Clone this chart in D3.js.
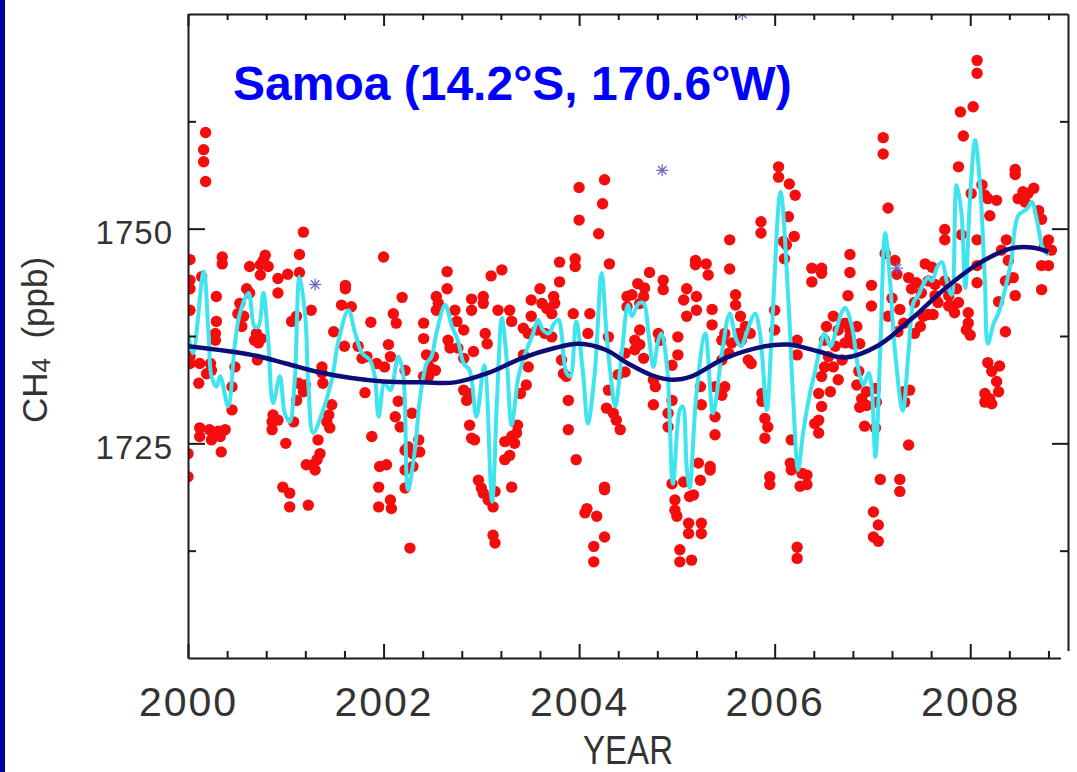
<!DOCTYPE html>
<html>
<head>
<meta charset="utf-8">
<script src="https://cdn.jsdelivr.net/npm/d3@7"></script>
<style>
  body { margin: 0; background: #fff; }
  svg { display: block; }
</style>
</head>
<body>
<svg id="chart"></svg>
<script>
// Tick values and labels
let yearTicks = [2000, 2002, 2004, 2006, 2008];
let yearMinorTicks = [2000.4, 2000.8, 2001.2, 2001.6, 2002.4, 2002.8, 2003.2, 2003.6,
    2004.4, 2004.8, 2005.2, 2005.6, 2006.4, 2006.8, 2007.2, 2007.6, 2008.4, 2008.8];
let ch4Ticks = [1725, 1750];
let ch4MinorTicks = [1712.5, 1737.5, 1762.5];

// Flask samples [year, CH4 ppb]
let flaskSamples = [
    [2000.18,1761.2],[2000.16,1759.2],[2000.16,1757.8],[2000.18,1755.5],
    [2001.18,1749.6],[2001.14,1747.0],[2000.35,1746.7],[2000.35,1745.9],
    [2000.79,1746.9],[2000.77,1746.3],[2002.00,1746.7],[2000.63,1745.6],
    [2000.74,1745.8],[2000.82,1745.6],[2000.74,1744.6],[2000.92,1744.2],[2001.02,1744.7],[2001.14,1744.9],
    [2000.02,1746.4],[2000.02,1744.0],[2000.02,1743.0],[2000.14,1744.4],[2000.29,1742.1],[2000.92,1742.5],
    [2000.60,1743.0],[2000.63,1742.5],[2001.61,1743.4],[2001.61,1743.0],[2002.19,1742.0],
    [2001.26,1740.5],[2001.57,1741.1],[2001.67,1740.9],
    [2000.53,1741.3],[2000.51,1740.1],[2000.57,1739.8],[2000.55,1738.6],
    [2000.02,1740.5],[2000.29,1739.2],[2001.06,1739.2],[2001.11,1739.8],
    [2002.10,1740.1],[2002.13,1739.0],[2001.87,1739.1],[2001.49,1738.0],
    [2000.28,1737.8],[2000.28,1737.0],[2000.70,1737.8],[2000.75,1737.2],[2000.68,1737.0],[2000.72,1736.7],
    [2001.60,1736.3],[2002.05,1736.5],[2002.07,1735.1],
    [2000.02,1735.1],[2000.02,1734.3],[2000.12,1734.3],[2000.23,1734.3],[2000.24,1733.5],[2000.48,1733.9],[2000.71,1734.7],
    [2001.37,1733.9],[2001.37,1733.2],[2001.38,1732.0],
    [2001.74,1736.3],[2001.78,1734.9],[2001.83,1735.1],[2001.93,1734.3],[2002.01,1733.9],
    [2000.11,1732.0],[2000.19,1733.1],[2001.13,1732.0],[2001.20,1731.8],[2001.18,1731.0],[2001.81,1730.9],
    [2000.45,1731.6],[2000.45,1728.9],[2001.11,1730.0],
    [2001.47,1729.5],[2001.44,1728.3],[2001.42,1727.5],[2001.45,1726.8],
    [2002.15,1729.9],[2002.12,1728.1],[2002.17,1726.9],
    [2000.87,1728.3],[2000.86,1727.5],[2000.86,1726.6],[2000.92,1727.7],[2001.08,1727.5],
    [2000.12,1726.8],[2000.12,1725.8],[2000.22,1726.6],[2000.26,1726.0],[2000.31,1726.4],[2000.38,1726.6],[2000.33,1725.8],[2000.24,1725.4],
    [2000.34,1724.0],[2000.00,1723.8],[2000.00,1721.1],[2001.00,1725.0],
    [2001.33,1725.4],[2001.35,1723.8],[2001.32,1723.1],[2001.28,1722.5],[2001.21,1722.5],[2001.30,1721.9],
    [2001.88,1725.8],[2001.96,1722.3],[2002.03,1722.5],[2001.95,1719.9],
    [2001.95,1717.6],[2002.07,1718.4],[2002.08,1717.4],
    [2000.97,1719.9],[2001.04,1719.2],[2001.04,1717.6],[2001.23,1717.8],
    [2002.22,1724.2],[2002.22,1721.9],
    [2004.26,1755.7],[2004.24,1752.9],[2004.20,1749.4],[2004.31,1745.9],
    [2004.00,1754.8],[2004.00,1751.0],
    [2003.80,1746.1],[2003.80,1743.8],[2003.96,1746.5],[2003.96,1745.6],
    [2002.65,1745.0],[2002.65,1743.0],[2003.10,1744.5],[2003.21,1745.2],
    [2003.60,1743.0],[2003.51,1741.7],[2003.62,1741.3],[2003.67,1740.7],[2003.74,1742.1],[2003.75,1741.3],[2003.72,1740.1],
    [2002.54,1742.1],[2002.56,1741.3],[2002.54,1740.5],
    [2002.90,1741.8],[2003.02,1742.1],[2003.02,1741.3],[2002.90,1740.5],
    [2003.17,1740.5],[2003.29,1740.5],[2003.31,1739.2],
    [2002.73,1740.5],[2002.75,1739.2],[2002.82,1738.2],
    [2002.41,1739.0],[2002.41,1737.2],[2003.94,1740.1],[2004.11,1740.1],[2004.49,1742.1],[2004.49,1740.9],
    [2003.51,1739.8],[2003.43,1738.4],[2003.48,1737.8],[2003.57,1738.2],[2003.65,1737.8],[2003.72,1737.4],
    [2003.04,1737.8],[2003.06,1736.6],[2002.92,1735.7],
    [2002.66,1737.0],[2002.68,1736.1],[2002.76,1736.1],
    [2002.44,1735.3],[2002.51,1735.1],[2002.47,1733.9],[2002.53,1733.5],[2002.46,1732.8],[2002.41,1732.8],[2002.22,1733.5],
    [2002.82,1734.9],[2002.82,1731.2],[2002.85,1730.0],[2002.87,1730.8],
    [2003.43,1735.3],[2003.48,1733.9],[2003.46,1731.8],[2003.40,1730.8],
    [2003.82,1734.7],[2003.84,1733.1],[2003.87,1732.8],[2003.89,1730.0],[2003.89,1726.6],
    [2004.09,1737.8],
    [2004.30,1737.4],[2004.40,1733.0],[2004.30,1731.2],[2004.28,1729.1],[2004.38,1727.7],[2004.42,1726.6],[2004.35,1728.5],
    [2002.29,1728.5],[2002.25,1724.6],[2002.36,1725.4],[2002.37,1724.0],[2002.30,1723.8],[2002.22,1719.8],[2002.30,1722.3],
    [2002.88,1727.1],[2002.90,1725.6],[2002.93,1725.4],
    [2003.24,1725.2],[2003.31,1725.8],[2003.29,1723.6],[2003.24,1723.1],[2003.34,1725.0],[2003.36,1726.2],[2003.37,1727.1],
    [2003.31,1719.9],
    [2002.97,1720.7],[2003.00,1719.8],[2003.02,1719.2],[2003.07,1718.4],[2003.12,1717.6],[2003.14,1719.4],
    [2003.12,1714.3],[2003.14,1713.4],[2002.27,1712.8],[2003.97,1723.1],
    [2004.08,1717.4],[2004.06,1716.9],[2004.18,1716.5],[2004.26,1714.1],
    [2004.15,1713.0],[2004.15,1711.2],[2004.26,1719.9],[2004.26,1719.6],
    [2006.04,1757.2],[2006.04,1756.0],[2006.15,1755.2],[2006.21,1753.9],
    [2005.86,1750.8],[2005.86,1749.5],
    [2006.14,1751.4],[2006.20,1749.1],[2006.09,1748.5],[2006.12,1748.1],[2006.10,1746.5],
    [2005.54,1748.7],[2005.54,1745.3],
    [2005.19,1746.3],[2005.19,1745.8],[2005.30,1745.9],[2005.32,1744.6],
    [2004.72,1744.9],[2004.86,1744.0],[2004.86,1742.9],
    [2004.60,1743.6],[2004.67,1743.1],[2004.54,1742.3],[2004.66,1742.1],[2004.62,1741.3],
    [2005.10,1743.0],[2005.07,1741.7],[2005.20,1742.1],[2005.10,1739.8],[2005.20,1740.5],
    [2005.36,1740.6],[2005.36,1738.8],[2005.60,1742.3],[2005.60,1741.1],
    [2006.38,1745.4],[2006.48,1745.4],[2006.38,1743.8],[2006.48,1744.8],
    [2006.00,1740.5],[2006.00,1738.2],
    [2005.65,1739.8],[2005.70,1738.6],[2005.75,1737.8],[2005.63,1737.8],[2005.66,1737.0],[2005.76,1734.3],[2005.73,1734.7],
    [2005.49,1737.8],[2005.56,1736.7],[2005.53,1735.5],[2005.46,1734.7],[2005.46,1737.0],
    [2006.53,1738.6],[2006.60,1739.8],[2006.51,1737.0],[2006.62,1736.3],[2006.65,1738.2],[2006.55,1735.1],
    [2006.51,1733.9],[2006.60,1733.9],[2006.72,1736.7],[2006.69,1734.7],[2006.48,1732.8],[2006.65,1732.4],
    [2006.57,1731.0],[2006.45,1730.8],[2006.48,1729.3],[2006.45,1727.7],[2006.41,1727.3],[2006.45,1726.2],
    [2006.23,1737.0],[2006.23,1735.3],
    [2004.47,1735.5],[2004.47,1733.3],
    [2004.57,1737.0],[2004.62,1736.5],[2004.57,1735.9],[2004.66,1734.9],[2004.62,1738.2],
    [2004.81,1737.8],[2004.83,1737.0],[2005.01,1737.4],[2005.01,1735.3],[2004.95,1734.1],
    [2004.76,1732.4],[2004.78,1731.6],[2004.76,1729.5],
    [2004.95,1730.0],[2004.91,1728.5],[2004.91,1726.9],
    [2005.24,1731.6],[2005.25,1729.5],[2005.39,1731.6],[2005.49,1731.6],[2005.46,1730.6],
    [2005.39,1728.1],[2005.39,1726.0],
    [2005.87,1730.8],[2005.87,1729.9],[2005.90,1727.9],[2005.93,1726.9],[2005.90,1725.6],
    [2006.17,1725.4],[2006.16,1722.7],[2006.17,1721.9],
    [2006.28,1721.5],[2006.33,1721.3],[2006.26,1720.0],[2006.33,1720.2],
    [2005.95,1721.1],[2005.95,1720.2],
    [2005.22,1722.7],[2005.24,1720.7],[2005.34,1722.3],[2005.34,1721.9],
    [2004.95,1720.3],[2005.07,1720.5],[2004.98,1718.4],[2004.98,1717.2],[2005.00,1716.5],[2005.13,1718.8],[2005.17,1719.0],
    [2005.12,1715.7],[2005.12,1714.5],[2005.25,1715.7],[2005.25,1714.5],
    [2005.03,1712.6],[2005.03,1711.2],[2005.15,1711.4],
    [2006.23,1712.9],[2006.23,1711.6],
    [2008.07,1769.6],[2008.07,1768.1],[2008.03,1764.2],[2007.90,1763.6],[2007.93,1760.8],
    [2007.11,1760.6],[2007.11,1758.7],[2007.16,1752.4],
    [2007.88,1757.2],[2008.01,1754.1],[2008.15,1753.9],[2008.12,1755.1],[2008.18,1753.5],[2008.27,1753.3],[2008.20,1751.5],
    [2008.46,1756.9],[2008.46,1756.3],[2008.49,1753.5],[2008.56,1753.1],[2008.59,1754.1],[2008.65,1754.7],[2008.54,1754.3],
    [2008.70,1752.1],[2008.73,1751.1],[2008.80,1748.7],[2008.76,1747.9],[2008.83,1747.5],[2008.73,1745.7],[2008.80,1745.7],[2008.73,1742.9],
    [2007.74,1749.9],[2007.74,1748.7],[2007.91,1749.3],
    [2008.07,1748.7],[2008.07,1745.7],[2008.07,1743.7],
    [2006.77,1747.0],[2006.77,1744.9],[2006.75,1742.2],
    [2006.99,1743.4],[2006.99,1741.0],
    [2007.13,1747.1],[2007.23,1746.3],[2007.25,1744.7],[2007.20,1741.9],[2007.16,1739.8],[2007.28,1740.6],[2007.32,1739.0],[2007.26,1738.0],
    [2007.37,1744.3],[2007.40,1743.0],[2007.45,1743.7],[2007.43,1741.4],[2007.50,1742.5],[2007.54,1745.9],[2007.61,1745.5],
    [2007.57,1743.9],[2007.64,1743.5],[2007.67,1741.4],[2007.52,1739.8],[2007.57,1740.0],[2007.62,1740.0],[2007.64,1742.2],
    [2007.43,1737.8],[2007.49,1738.6],
    [2007.74,1743.9],[2007.78,1742.2],[2007.81,1741.0],[2007.86,1743.0],[2007.88,1741.4],[2007.84,1740.2],[2007.78,1741.0],
    [2007.98,1740.2],[2007.98,1739.0],[2007.96,1738.2],[2008.00,1737.6],
    [2008.29,1741.5],
    [2008.37,1748.7],[2008.32,1747.5],[2008.39,1746.3],[2008.36,1743.9],[2008.44,1744.3],[2008.46,1742.2],
    [2008.36,1738.0],
    [2006.72,1739.0],[2006.77,1738.2],[2006.84,1738.6],[2006.87,1736.6],[2006.77,1737.4],[2006.80,1736.6],
    [2008.18,1734.4],[2008.22,1733.4],[2008.30,1734.0],[2008.27,1732.2],[2008.29,1731.0],[2008.15,1730.8],[2008.20,1730.2],[2008.22,1729.6],[2008.15,1729.8],
    [2006.86,1733.4],[2006.84,1731.8],[2006.89,1730.2],[2006.87,1729.2],[2006.94,1731.0],[2006.94,1729.4],[2006.92,1727.0],
    [2007.03,1731.4],[2007.04,1729.8],[2007.03,1726.8],
    [2007.32,1731.0],[2007.38,1731.2],[2007.33,1729.8],
    [2007.37,1724.8],[2007.08,1720.8],[2007.28,1720.8],[2007.28,1719.4],
    [2007.01,1717.0],[2007.06,1715.5],[2007.01,1714.1],[2007.06,1713.6]
];

// Short-term smoothed fit (cyan)
let shortFit = [
    [2000.00,1737.8],[2000.05,1735.5],[2000.16,1745.0],[2000.21,1737.8],[2000.24,1732.8],[2000.29,1731.6],
    [2000.33,1732.8],[2000.41,1729.3],[2000.48,1736.6],[2000.53,1740.1],[2000.62,1742.5],[2000.68,1738.6],
    [2000.72,1738.6],[2000.77,1742.5],[2000.82,1737.0],[2000.87,1729.7],[2000.94,1732.8],[2000.99,1728.5],
    [2001.04,1727.5],[2001.09,1732.0],[2001.14,1744.4],[2001.20,1739.7],[2001.23,1732.0],[2001.28,1726.2],
    [2001.37,1728.5],[2001.47,1732.4],[2001.54,1737.0],[2001.64,1740.5],[2001.71,1737.8],[2001.78,1735.5],
    [2001.86,1734.7],[2001.91,1732.8],[2001.95,1728.1],[2002.01,1732.0],[2002.07,1731.2],[2002.15,1735.1],
    [2002.20,1733.1],[2002.25,1719.6],[2002.32,1724.2],[2002.37,1730.0],[2002.44,1734.3],[2002.49,1735.1],
    [2002.54,1737.8],[2002.63,1741.1],[2002.70,1738.6],[2002.76,1737.0],[2002.82,1734.3],[2002.88,1733.5],
    [2002.95,1728.1],[2003.03,1734.1],[2003.11,1718.2],[2003.16,1730.0],[2003.21,1739.6],[2003.26,1734.7],
    [2003.31,1727.1],[2003.38,1732.8],[2003.45,1735.5],[2003.53,1737.8],[2003.58,1739.4],[2003.63,1738.2],
    [2003.69,1737.8],[2003.74,1738.9],[2003.79,1739.4],[2003.82,1737.8],[2003.87,1733.2],[2003.91,1732.8],
    [2003.97,1739.2],[2004.04,1733.2],[2004.09,1727.3],[2004.16,1733.2],[2004.23,1744.8],[2004.28,1737.8],
    [2004.32,1733.2],[2004.37,1729.3],[2004.44,1735.9],[2004.50,1741.1],[2004.54,1739.8],[2004.61,1741.3],
    [2004.66,1741.3],[2004.71,1737.8],[2004.76,1733.9],[2004.81,1737.0],[2004.84,1737.8],[2004.90,1733.9],
    [2004.96,1720.3],[2005.03,1728.9],[2005.06,1729.3],[2005.10,1722.3],[2005.13,1719.8],[2005.20,1730.8],
    [2005.29,1737.8],[2005.37,1728.5],[2005.46,1735.5],[2005.54,1740.1],[2005.61,1737.0],[2005.66,1736.3],
    [2005.71,1737.8],[2005.80,1740.1],[2005.85,1737.8],[2005.92,1728.9],[2005.97,1737.8],[2006.06,1754.3],
    [2006.14,1741.7],[2006.19,1730.0],[2006.24,1721.9],[2006.29,1726.2],[2006.36,1730.8],[2006.41,1733.2],
    [2006.48,1737.0],[2006.51,1737.8],[2006.57,1736.3],[2006.62,1737.8],[2006.68,1740.1],[2006.72,1740.8],
    [2006.79,1738.6],[2006.86,1733.4],[2006.91,1731.8],[2006.96,1733.2],[2006.99,1731.8],[2007.03,1723.4],
    [2007.08,1735.8],[2007.13,1749.5],[2007.18,1743.9],[2007.23,1735.8],[2007.31,1728.8],[2007.37,1735.8],
    [2007.42,1741.4],[2007.47,1742.3],[2007.52,1743.5],[2007.57,1744.3],[2007.61,1743.9],[2007.66,1745.5],
    [2007.71,1746.1],[2007.76,1743.9],[2007.81,1742.3],[2007.86,1755.1],[2007.91,1751.9],[2007.95,1743.1],
    [2008.00,1753.9],[2008.05,1760.3],[2008.10,1755.1],[2008.15,1743.9],[2008.18,1736.6],[2008.24,1739.0],
    [2008.29,1740.2],[2008.36,1743.1],[2008.42,1746.3],[2008.49,1751.5],[2008.58,1752.3],[2008.63,1753.1],
    [2008.68,1751.1],[2008.75,1747.5],[2008.80,1747.0]
];

// Long-term trend (navy)
let trendFit = [
    [2000.00,1736.3],[2000.65,1735.3],[2001.00,1734.3],[2001.33,1733.3],[2001.67,1732.6],[2002.00,1732.2],
    [2002.40,1732.1],[2002.73,1732.1],[2003.07,1733.2],[2003.41,1734.9],[2003.75,1736.1],[2004.00,1736.6],
    [2004.27,1735.9],[2004.50,1734.3],[2004.75,1732.9],[2004.95,1732.4],[2005.15,1732.8],[2005.49,1734.9],
    [2005.90,1736.3],[2006.14,1736.5],[2006.45,1735.7],[2006.72,1735.0],[2007.06,1736.4],[2007.40,1739.5],
    [2007.74,1743.0],[2008.08,1745.9],[2008.42,1747.7],[2008.63,1747.8],[2008.80,1747.3]
];

// Flagged samples (asterisks)
let flagged = [[2001.30,1743.5],[2004.85,1756.8],[2005.67,1775.0],[2007.25,1745.4]];

let width = 1077;
let height = 772;
let plotLeft = 188, plotRight = 1068, plotTop = 14, plotBottom = 658;
let fontFace = '"Liberation Sans", Arial, Helvetica, sans-serif';

let svg = d3.select('#chart')
    .attr('width', width)
    .attr('height', height)
    .style('font-family', fontFace);

svg.append('rect').attr('width', width).attr('height', height).attr('fill', '#fff');
// dark slide bar on the left
svg.append('rect').attr('x', 0).attr('y', 0).attr('width', 5).attr('height', height).attr('fill', '#0000a0');

let xScale = d3.scaleLinear().domain([2000, 2009]).range([plotLeft, plotRight]);
let yScale = d3.scaleLinear().domain([1700, 1775]).range([plotBottom, plotTop]);

svg.append('clipPath').attr('id', 'plot-clip')
    .append('rect')
    .attr('x', plotLeft).attr('y', plotTop)
    .attr('width', plotRight - plotLeft).attr('height', plotBottom - plotTop);

let plot = svg.append('g').attr('clip-path', 'url(#plot-clip)');

// red flask points
plot.selectAll('circle.flask')
    .data(flaskSamples)
    .enter()
    .append('circle')
    .attr('class', 'flask')
    .attr('cx', (d) => xScale(d[0]))
    .attr('cy', (d) => yScale(d[1]))
    .attr('r', 5.7)
    .attr('fill', '#f40d0d');

// asterisks
let star = plot.selectAll('g.star')
    .data(flagged)
    .enter()
    .append('g')
    .attr('class', 'star')
    .attr('transform', (d) => `translate(${xScale(d[0])},${yScale(d[1])})`)
    .attr('stroke', '#6464c0')
    .attr('stroke-width', 1.2);
[0, 45, 90, 135].forEach((a) => {
    star.append('line')
        .attr('x1', -6).attr('x2', 6).attr('y1', 0).attr('y2', 0)
        .attr('transform', `rotate(${a})`);
});

let line = d3.line()
    .x((d) => xScale(d[0]))
    .y((d) => yScale(d[1]))
    .curve(d3.curveCatmullRom.alpha(0.5));

plot.append('path')
    .datum(shortFit)
    .attr('d', line)
    .attr('fill', 'none')
    .attr('stroke', '#3ee4ee')
    .attr('stroke-width', 4)
    .attr('stroke-linejoin', 'round');

plot.append('path')
    .datum(trendFit)
    .attr('d', line)
    .attr('fill', 'none')
    .attr('stroke', '#0d0d78')
    .attr('stroke-width', 4.5);

// axes
let axisColor = '#1a1a1a';

let addAxis = (axis, transform) => {
    let g = svg.append('g')
        .attr('transform', transform)
        .call(axis);
    g.attr('color', axisColor);
    g.selectAll('path, line').attr('stroke-width', 2);
    return g;
};

// bottom
addAxis(d3.axisBottom(xScale).tickValues(yearMinorTicks).tickSize(-7).tickSizeOuter(0).tickFormat(''),
    `translate(0,${plotBottom})`);
let xMajor = addAxis(d3.axisBottom(xScale).tickValues(yearTicks).tickSize(-14).tickSizeOuter(0)
    .tickPadding(29).tickFormat(d3.format('d')), `translate(0,${plotBottom})`);
xMajor.select('.domain').remove();
xMajor.selectAll('text')
    .attr('font-size', 41)
    .attr('font-family', fontFace)
    .attr('fill', '#333')
    .attr('letter-spacing', 2);

// top
addAxis(d3.axisTop(xScale).tickValues(yearMinorTicks).tickSize(-6).tickSizeOuter(0).tickFormat(''),
    `translate(0,${plotTop})`);
addAxis(d3.axisTop(xScale).tickValues(yearTicks).tickSize(-12).tickSizeOuter(0).tickFormat(''),
    `translate(0,${plotTop})`).select('.domain').remove();

// left
addAxis(d3.axisLeft(yScale).tickValues(ch4MinorTicks).tickSize(-8).tickSizeOuter(0).tickFormat(''),
    `translate(${plotLeft},0)`);
let yMajor = addAxis(d3.axisLeft(yScale).tickValues(ch4Ticks).tickSize(-17).tickSizeOuter(0)
    .tickPadding(15).tickFormat(d3.format('d')), `translate(${plotLeft},0)`);
yMajor.select('.domain').remove();
yMajor.selectAll('text')
    .attr('font-size', 33)
    .attr('font-family', fontFace)
    .attr('fill', '#333')
    .attr('letter-spacing', 1)
    .attr('dy', '0.46em');

// right
addAxis(d3.axisRight(yScale).tickValues(ch4MinorTicks).tickSize(-8).tickSizeOuter(0).tickFormat(''),
    `translate(${plotRight},0)`);
addAxis(d3.axisRight(yScale).tickValues(ch4Ticks).tickSize(-16).tickSizeOuter(0).tickFormat(''),
    `translate(${plotRight},0)`).select('.domain').remove();

// white patch that trims the lower right corner, as in the original slide
svg.append('rect')
    .attr('x', 1061).attr('y', 651)
    .attr('width', width - 1061).attr('height', height - 651)
    .attr('fill', '#fff');

// axis titles
svg.append('text')
    .attr('x', (plotLeft + plotRight) / 2)
    .attr('y', 764)
    .attr('text-anchor', 'middle')
    .attr('font-size', 40)
    .attr('fill', '#333')
    .attr('textLength', 90)
    .attr('lengthAdjust', 'spacingAndGlyphs')
    .text('YEAR');

let yTitle = svg.append('text')
    .attr('transform', 'translate(47,340) rotate(-90)')
    .attr('text-anchor', 'middle')
    .attr('font-size', 35)
    .attr('fill', '#333');
yTitle.append('tspan').text('CH');
yTitle.append('tspan').attr('font-size', 26).attr('dy', 3).text('4');
yTitle.append('tspan').attr('dy', -3).text('\u00a0\u00a0(ppb)');

// station title
svg.append('text')
    .attr('x', 233)
    .attr('y', 100)
    .attr('font-size', 48)
    .attr('font-weight', 'bold')
    .attr('font-family', 'Arial, "Liberation Sans", Helvetica, sans-serif')
    .attr('fill', '#0000ff')
    .text('Samoa (14.2\u00b0S, 170.6\u00b0W)');
</script>
</body>
</html>
